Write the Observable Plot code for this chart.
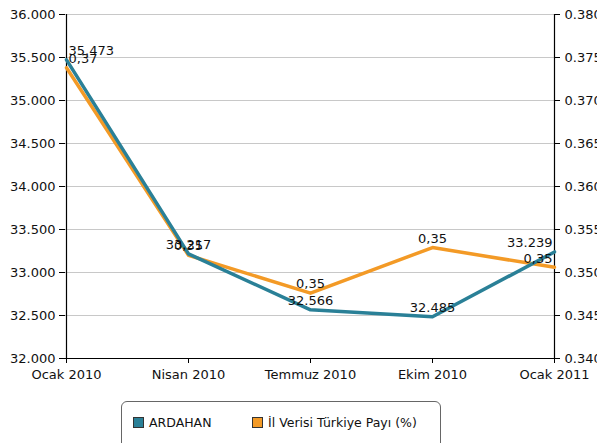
<!DOCTYPE html>
<html>
<head>
<meta charset="utf-8">
<script src="https://cdn.jsdelivr.net/npm/d3@7"></script>
<script src="https://cdn.jsdelivr.net/npm/@observablehq/plot@0.6"></script>
<style>
  body { margin: 0; background: #fff; font-family: "DejaVu Sans", Verdana, sans-serif; }
  #wrap { position: relative; width: 597px; height: 443px; overflow: hidden; }
  #legend { position: absolute; left: 121px; top: 401px; width: 320px; height: 60px;
    border: 1px solid #666; border-radius: 6px; box-sizing: border-box; font-size: 12.5px; color: #111; }
  .item { position: absolute; top: 13px; display: flex; align-items: center; }
  .sw { width: 9px; height: 9px; border: 1px solid #333; margin-right: 5px; }
</style>
</head>
<body>
<div id="wrap">
  <div id="chart"></div>
  <div id="legend"></div>
</div>
<script>
const categories = ["Ocak 2010", "Nisan 2010", "Temmuz 2010", "Ekim 2010", "Ocak 2011"];
const ardahan = [35473, 33217, 32566, 32485, 33239];
const payi = [0.3738, 0.3520, 0.3476, 0.3529, 0.3506];
const payiLabels = ["0,37", "0,35", "0,35", "0,35", "0,35"];
const leftTicks = [32000, 32500, 33000, 33500, 34000, 34500, 35000, 35500, 36000];
const rightTicks = [0.340, 0.345, 0.350, 0.355, 0.360, 0.365, 0.370, 0.375, 0.380];
const seriesNames = ["ARDAHAN", "İl Verisi Türkiye Payı (%)"];
const colors = ["#2a8097", "#f39a26"];

// map right-axis values onto the left scale
const toLeft = v => 32000 + (v - 0.34) * 100000;
const fromLeft = d => 0.34 + (d - 32000) / 100000;
const fmtThousands = d => d3.format(",")(d).replace(/,/g, ".");

const tealData = categories.map((c, i) => ({cat: c, y: ardahan[i], label: fmtThousands(ardahan[i]), i}));
const orangeData = categories.map((c, i) => ({cat: c, y: toLeft(payi[i]), label: payiLabels[i], i}));
const last = categories.length - 1;

function labels(data) {
  const common = {x: "cat", y: "y", text: "label", fill: "#111", dy: -9, fontSize: 13};
  return [
    Plot.text(data.filter(d => d.i === 0), {...common, textAnchor: "start", dx: 2}),
    Plot.text(data.filter(d => d.i > 0 && d.i < last), {...common, textAnchor: "middle"}),
    Plot.text(data.filter(d => d.i === last), {...common, textAnchor: "end", dx: -2})
  ];
}

const chart = Plot.plot({
  width: 597,
  height: 385,
  marginLeft: 65,
  marginRight: 43,
  marginTop: 14,
  marginBottom: 27,
  style: {fontFamily: "DejaVu Sans, Verdana, sans-serif", fontSize: "13px", color: "#111", background: "#fff", overflow: "visible"},
  x: {type: "point", domain: categories, padding: 0, label: null},
  y: {domain: [32000, 36000], label: null},
  marks: [
    Plot.gridY(leftTicks, {stroke: "#c8c8c8", strokeOpacity: 1}),
    Plot.axisY(leftTicks, {anchor: "left", tickFormat: fmtThousands, tickSize: 6, tickPadding: 4, label: null, stroke: "#000", fontSize: 13}),
    Plot.axisY(rightTicks.map(toLeft), {anchor: "right", tickFormat: d => fromLeft(d).toFixed(3), tickSize: 5, tickPadding: 5, label: null, stroke: "#000", fontSize: 13}),
    Plot.axisX({tickSize: 5, tickPadding: 6, label: null, stroke: "#000", fontSize: 13}),
    Plot.ruleX([categories[0], categories[last]], {stroke: "#000", strokeWidth: 1.2}),
    Plot.ruleY([32000], {stroke: "#000", strokeWidth: 1.2}),
    Plot.line(orangeData, {x: "cat", y: "y", stroke: colors[1], strokeWidth: 3.5}),
    Plot.line(tealData, {x: "cat", y: "y", stroke: colors[0], strokeWidth: 3.5}),
    ...labels(tealData),
    ...labels(orangeData)
  ]
});
document.getElementById("chart").appendChild(chart);

const legend = document.getElementById("legend");
const lefts = [11, 130];
seriesNames.forEach((name, i) => {
  const item = document.createElement("div");
  item.className = "item";
  item.style.left = lefts[i] + "px";
  item.innerHTML = `<span class="sw" style="background:${colors[i]}"></span><span>${name}</span>`;
  legend.appendChild(item);
});
</script>
</body>
</html>
